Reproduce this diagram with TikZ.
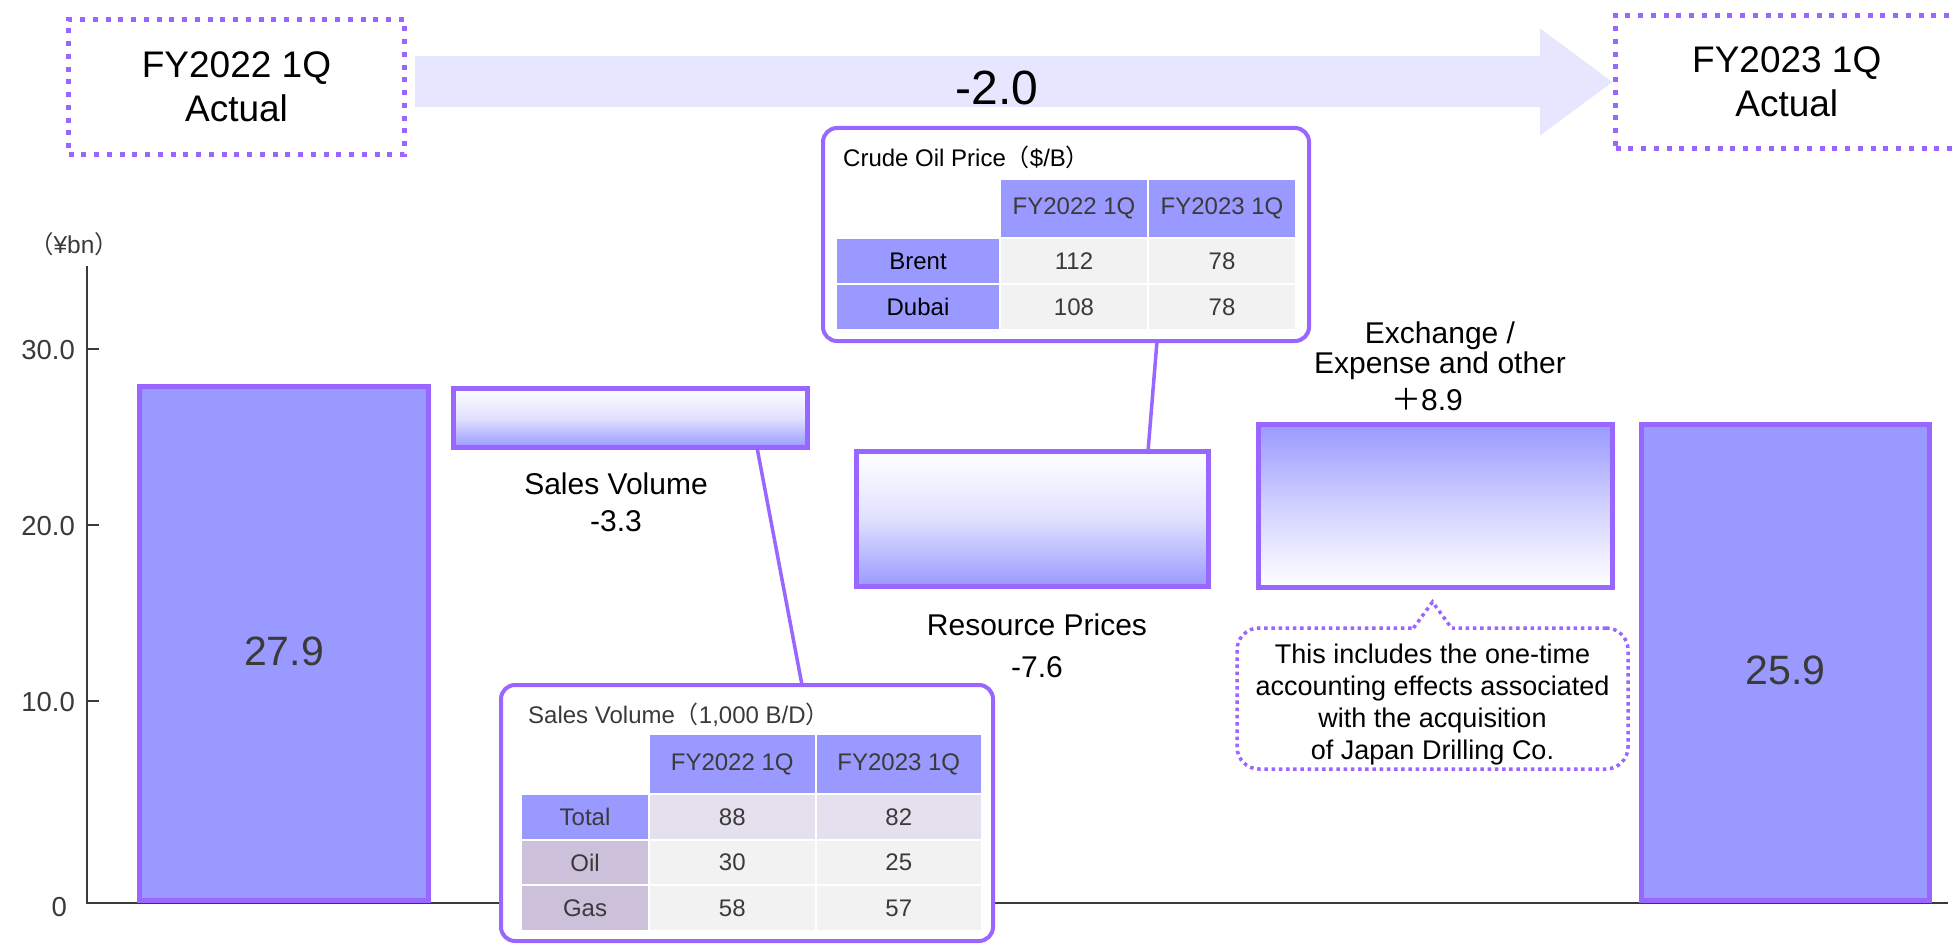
\documentclass[tikz,border=0pt]{standalone}
\usepackage{fontspec}
\setmainfont{Liberation Sans}
\newfontfamily\cjk{Noto Sans CJK JP}
\usetikzlibrary{arrows.meta,calc}

\definecolor{barfill}{HTML}{9999FF}
\definecolor{barline}{HTML}{9966FF}
\definecolor{bandfill}{HTML}{E6E6FF}
\definecolor{cellgray}{HTML}{F2F2F2}
\definecolor{celllav}{HTML}{E4E0EE}
\definecolor{celllilac}{HTML}{CCC0DA}
\definecolor{textgray}{HTML}{3A3A3A}

\tikzset{
	dotbox/.style={draw=barline, line width=5pt, dash pattern=on 5pt off 7.75pt, inner sep=0pt, outer sep=0pt, align=center, font=\fontsize{37}{44}\selectfont},
	bandarrow/.style={draw=bandfill, line width=51pt, -{Triangle[length=73pt,width=102pt]}},
	totalbar/.style={draw=barline, line width=5pt, fill=barfill, inner sep=0pt, outer sep=0pt, text=textgray, text height=44pt, text depth=0pt, font=\fontsize{41}{46}\selectfont},
	stepbar/.style={draw=barline, line width=4.5pt, inner sep=0pt, outer sep=0pt},
	steplabel/.style={inner sep=0pt, font=\fontsize{30}{36}\selectfont},
	ticklabel/.style={inner sep=0pt, text=textgray, font=\fontsize{27.5}{32}\selectfont},
	roundbox/.style={draw=barline, line width=4pt, rounded corners=14pt, fill=white, inner sep=0pt, outer sep=0pt},
	linkline/.style={draw=barline, line width=3.5pt},
	tabtitle/.style={inner sep=0pt, font=\fontsize{24}{28}\selectfont},
	tabcell/.style={draw=white, line width=2pt, inner sep=0pt, outer sep=0pt, fill=cellgray, text=textgray, font=\fontsize{24}{28}\selectfont},
	hdcell/.style={tabcell, fill=barfill},
	notebox/.style={draw=barline, line width=3.5pt, dash pattern=on 3.5pt off 3.7pt, rounded corners=22pt, inner sep=0pt, outer sep=0pt},
	notetext/.style={inner sep=0pt, align=center, font=\fontsize{27}{32}\selectfont},
	notedots/.style={draw=barline, line width=3.5pt, dash pattern=on 3.5pt off 3.7pt}
}

\begin{document}
\begin{tikzpicture}[x=1pt, y=-1pt]
		%%%%% START %%%%%
		\useasboundingbox (0,0) rectangle (1956,952);
		
		\node[dotbox, minimum width=336pt, minimum height=135pt] (fy22box) at (236.5,87) {FY2022 1Q\\Actual};
		\node[dotbox, minimum width=342.5pt, minimum height=133pt] (fy23box) at (1786.75,82) {FY2023 1Q\\Actual};
		\draw[bandarrow, shorten <=10.5pt, shorten >=2.5pt] (fy22box.east |- fy23box.west) -- (fy23box.west);
		\node[inner sep=0pt, font=\fontsize{48}{52}\selectfont] (delta) at (997,88) {-2.0};
		
		% axis
		\node[inner sep=0pt, text=textgray, font=\fontsize{24.5}{28}\selectfont] (unit) at (74,244) {{\cjk （}¥bn{\cjk ）}};
		\draw[line width=2.7pt, color=textgray] (87,266) -- (87,903) -- (1948,903);
		\draw[line width=2.7pt, color=textgray] (87,349) -- (99,349);
		\draw[line width=2.7pt, color=textgray] (87,525) -- (99,525);
		\draw[line width=2.7pt, color=textgray] (87,701) -- (99,701);
		\node[ticklabel, anchor=east] (t30) at (75,350) {30.0};
		\node[ticklabel, anchor=east] (t20) at (75,526) {20.0};
		\node[ticklabel, anchor=east] (t10) at (75,702) {10.0};
		\node[ticklabel, anchor=east] (t0) at (67,907) {0};
		
		% bars
		\node[totalbar, minimum width=289pt, minimum height=514pt] (fy22bar) at (284,643.5) {27.9};
		\node[stepbar, top color=white, bottom color=barfill, middle color=barfill!30, minimum width=354pt, minimum height=59pt] (salesbar) at (630.5,418) {};
		\node[stepbar, top color=white, bottom color=barfill, middle color=barfill!30, minimum width=352pt, minimum height=135pt] (pricebar) at (1032.5,519) {};
		\node[stepbar, top color=barfill, bottom color=white, middle color=barfill!45, minimum width=354pt, minimum height=163pt] (otherbar) at (1435.5,506) {};
		\node[totalbar, minimum width=288pt, minimum height=476pt] (fy23bar) at (1785.5,662.5) {25.9};
		
		\node[steplabel, anchor=base] (salesname) at (616,494) {Sales Volume};
		\node[steplabel, anchor=base] (salesval) at (616,531) {-3.3};
		\node[steplabel, anchor=base] (pricename) at (1037,635) {Resource Prices};
		\node[steplabel, anchor=base] (priceval) at (1037,677) {-7.6};
		\node[steplabel, anchor=base] (othername) at (1440,343) {Exchange /};
		\node[steplabel, anchor=base] (othername2) at (1440,373) {Expense and other};
		\node[steplabel, anchor=base] (otherval) at (1427,410) {{\cjk ＋}8.9};
		
		% crude oil table
		\node[roundbox, minimum width=486pt, minimum height=213pt] (oilbox) at (1066,234.5) {};
		\node[tabtitle, anchor=base west] (oiltitle) at (843,166.5) {Crude Oil Price{\cjk （}\$/B{\cjk ）}};
		\node[hdcell, minimum width=148pt, minimum height=59pt] (oilhd1) at (1074,208.5) {FY2022 1Q};
		\node[hdcell, minimum width=148pt, minimum height=59pt] (oilhd2) at (1222,208.5) {FY2023 1Q};
		\node[hdcell, text=black, minimum width=164pt, minimum height=46pt] (brent) at (918,261) {Brent};
		\node[tabcell, minimum width=148pt, minimum height=46pt] (brent1) at (1074,261) {112};
		\node[tabcell, minimum width=148pt, minimum height=46pt] (brent2) at (1222,261) {78};
		\node[hdcell, text=black, minimum width=164pt, minimum height=46pt] (dubai) at (918,307) {Dubai};
		\node[tabcell, minimum width=148pt, minimum height=46pt] (dubai1) at (1074,307) {108};
		\node[tabcell, minimum width=148pt, minimum height=46pt] (dubai2) at (1222,307) {78};
		
		% sales volume table
		\node[roundbox, minimum width=492pt, minimum height=256pt] (salesbox) at (747,813) {};
		\node[tabtitle, text=textgray, anchor=base west] (salestitle) at (528,723) {Sales Volume{\cjk （}1,000 B/D{\cjk ）}};
		\node[hdcell, minimum width=166.5pt, minimum height=60pt] (volhd1) at (732.25,764) {FY2022 1Q};
		\node[hdcell, minimum width=166.5pt, minimum height=60pt] (volhd2) at (898.75,764) {FY2023 1Q};
		\node[hdcell, minimum width=128pt, minimum height=45.5pt] (total) at (585,817) {Total};
		\node[tabcell, fill=celllav, minimum width=166.5pt, minimum height=45.5pt] (total1) at (732.25,817) {88};
		\node[tabcell, fill=celllav, minimum width=166.5pt, minimum height=45.5pt] (total2) at (898.75,817) {82};
		\node[tabcell, fill=celllilac, minimum width=128pt, minimum height=45.5pt] (oil) at (585,862.5) {Oil};
		\node[tabcell, minimum width=166.5pt, minimum height=45.5pt] (oil1) at (732.25,862.5) {30};
		\node[tabcell, minimum width=166.5pt, minimum height=45.5pt] (oil2) at (898.75,862.5) {25};
		\node[tabcell, fill=celllilac, minimum width=128pt, minimum height=45.5pt] (gas) at (585,908) {Gas};
		\node[tabcell, minimum width=166.5pt, minimum height=45.5pt] (gas1) at (732.25,908) {58};
		\node[tabcell, minimum width=166.5pt, minimum height=45.5pt] (gas2) at (898.75,908) {57};
		
		\draw[linkline] ($(salesbar.south)+(126.5,0)$) -- ($(salesbox.north)+(55,0)$);
		\draw[linkline] ($(oilbox.south)+(91,0)$) -- ($(pricebar.north)+(115.5,0)$);
		
		% note
		\node[notebox, minimum width=391pt, minimum height=141pt] (note) at (1432.5,698.5) {};
		\fill[white] ($(note.north)+(-19,-2.5)$) rectangle ($(note.north)+(19,2.5)$);
		\draw[notedots] ($(note.north)+(-19,0)$) -- ($(note.north)+(0,-26)$) -- ($(note.north)+(19,0)$);
		\node[notetext] (notetext) at (1432.5,705) {This includes the one-time\\accounting effects associated\\with the acquisition\\of Japan Drilling Co.};
		
		%%%%% END %%%%%
\end{tikzpicture}
\end{document}
